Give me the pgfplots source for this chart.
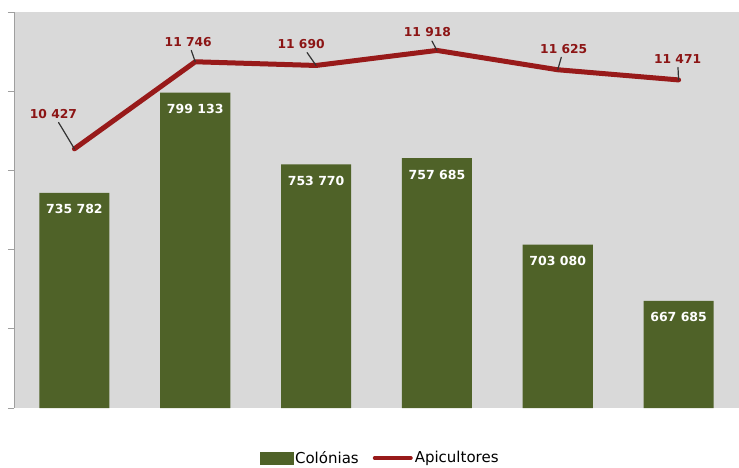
\documentclass[border=0pt]{standalone}
\usepackage{fontspec}
\setmainfont{DejaVu Sans}
\usepackage{pgfplots}
\usepackage{pgfplotstable}
\pgfplotsset{compat=1.18}

\definecolor{bgcol}{HTML}{D9D9D9}
\definecolor{barcol}{HTML}{4F6228}
\definecolor{apicol}{HTML}{981A1A}
\definecolor{apitxt}{HTML}{8C1515}
\definecolor{leader}{HTML}{333333}

\pgfplotstableread{
x col
0 735782
1 799133
2 753770
3 757685
4 703080
5 667685
}\colonias

% ang/dist: where each value label sits, seen from its point
\pgfplotstableread{
x api ang dist
0 10427 121.0 40.8
1 11746 109.3 21.2
2 11690 124.9 26.2
3 11918 117.8 20.4
4 11625 74.1 21.8
5 11471 92.7 21.0
}\apicultores

\pgfplotsset{
  every axis/.append style={
    scale only axis, width=725pt, height=396pt,
    xmin=-0.5, xmax=5.5,
    /pgf/number format/.cd, fixed, precision=0, 1000 sep={\ },
    assume math mode=true,
  },
}

\begin{document}
\begin{tikzpicture}[every pin edge/.style={draw=leader, line width=1.2pt, opacity=1}]
\path[use as bounding box] (-14pt,-59pt) rectangle (725pt,408pt);
\begin{axis}[
  ymin=600000, ymax=850000,
  ytick={600000,650000,...,850000},
  yticklabels={,,,,,},
  scaled y ticks=false,
  xtick=\empty,
  axis x line=none,
  axis y line*=left,
  y axis line style={draw=gray!75, line width=0.8pt},
  tick align=outside,
  major tick length=6pt,
  ytick style={draw=gray!75, line width=0.8pt},
  axis background/.style={fill=bgcol},
]
\addplot[ybar, bar width=0.58, fill=barcol, draw=none,
  nodes near coords,
  every node near coord/.append style={anchor=north, yshift=-8pt,
    text=white, font=\bfseries\fontsize{12.5}{14}\selectfont}]
  table[x=x, y=col]{\colonias};
\end{axis}

\begin{axis}[
  ymin=6500, ymax=12500,
  axis lines=none,
  legend columns=2,
  legend style={at={(0.505,0)}, anchor=center, yshift=-50pt,
    draw=none, fill=none, font=\fontsize{15}{17}\selectfont,
    /tikz/every even column/.append style={column sep=12pt}},
  legend cell align=left,
]
\addlegendimage{legend image code/.code={
  \fill[barcol] (0pt,-6pt) rectangle (33pt,6pt);}}
\addlegendentry{Colónias}
\addplot[apicol, line width=5pt, line cap=round, line join=round,
  legend image code/.code={
    \draw[apicol, line width=4pt, line cap=round] (2pt,0pt) -- (38pt,0pt);},
  visualization depends on={\thisrow{ang}\as\pang},
  visualization depends on={\thisrow{dist}\as\pdist},
  nodes near coords={},
  every node near coord/.append style={anchor=center, inner sep=0pt,
    outer sep=0pt, minimum size=0pt,
    pin edge={shorten >=3pt},
    pin={[pin distance=\pdist pt, anchor=center, text=apitxt, inner sep=1.5pt,
      font=\bfseries\fontsize{12.3}{14}\selectfont]\pang:{\pgfmathprintnumber{\pgfplotspointmeta}}}}]
  table[x=x, y=api]{\apicultores};
\addlegendentry{Apicultores}
\end{axis}
\end{tikzpicture}
\end{document}
